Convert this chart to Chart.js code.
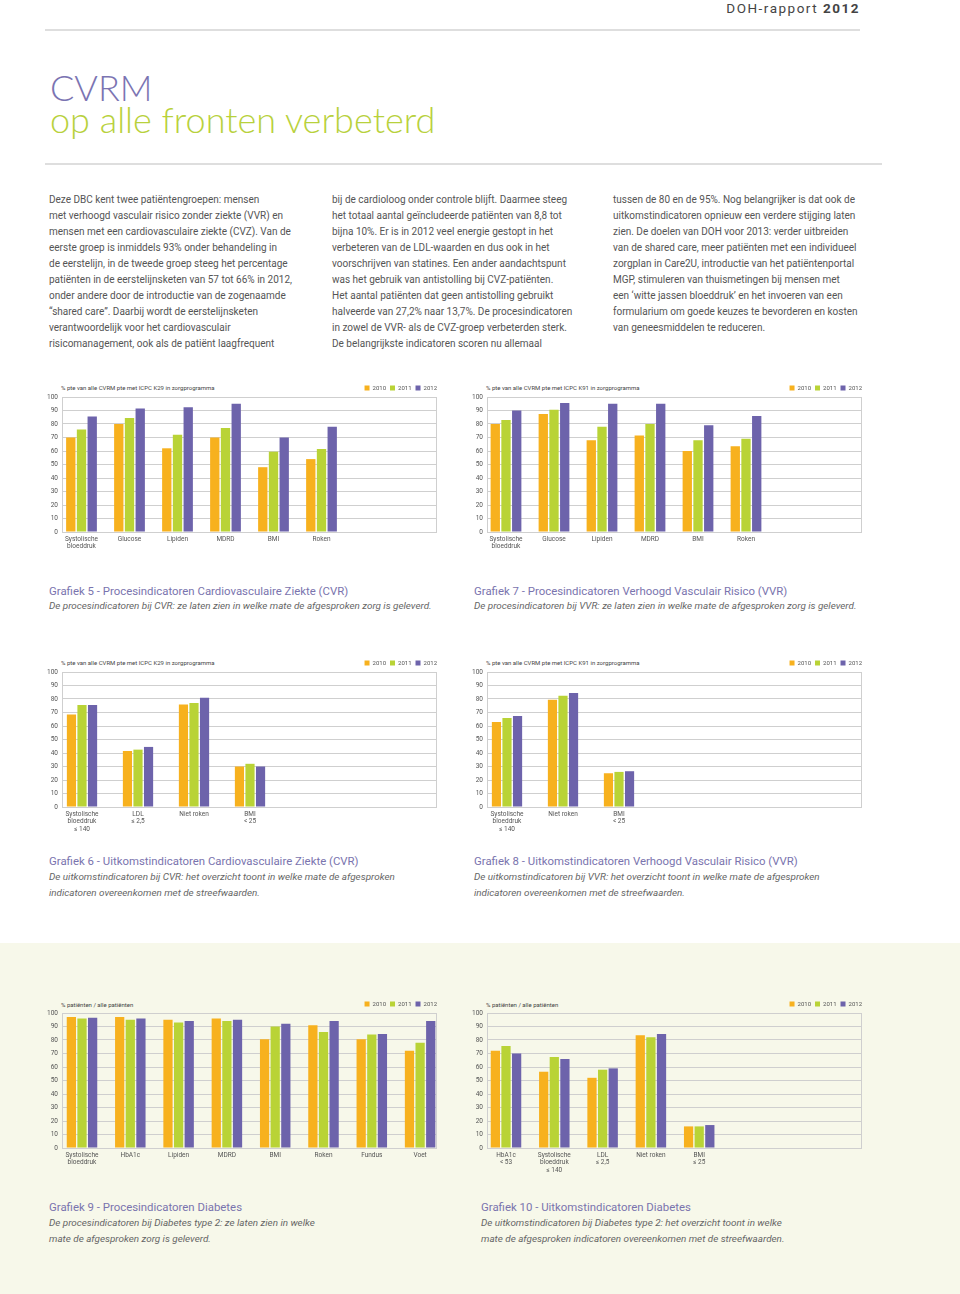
<!DOCTYPE html>
<html>
<head>
<meta charset="utf-8">
<script src="https://cdn.jsdelivr.net/npm/chart.js@4.4.1/dist/chart.umd.min.js"></script>
<style>
body { margin: 0; background: #fff; font-family: Roboto, sans-serif; color: #555; }
.page { position: relative; width: 960px; height: 1294px; overflow: hidden; }
.abs { position: absolute; }
.rule { position: absolute; height: 2px; background: #dedede; }
.head { right: 100px; top: 1px; font-size: 13.5px; line-height: 14px; letter-spacing: 1.5px; color: #444; }
.head b { font-weight: 700; }
.t1, .t2 { left: 50px; font-family: Lato, sans-serif; font-weight: 300; font-size: 36px; line-height: 40px; }
.t1 { top: 67px; color: #7b74b2; }
.t2 { top: 99px; color: #b8d13c; }
.col { font-size: 10px; line-height: 16px; color: #555; white-space: nowrap; top: 192px; }
.band { left: 0; top: 943px; width: 960px; height: 351px; background: #f7f8ea; }
.cap { font-size: 11.4px; line-height: 14px; color: #7a74ae; white-space: nowrap; }
.sub { font-size: 9.9px; line-height: 16px; color: #666; font-style: italic; white-space: nowrap; }
.ctitle { font-size: 6px; line-height: 8px; color: #444; white-space: nowrap; }
.wrap { position: absolute; }
</style>
</head>
<body>
<div class="page">
  <div class="abs head">DOH-rapport <b>2012</b></div>
  <div class="rule" style="left:45px;top:29px;width:815px"></div>
  <div class="abs t1">CVRM</div>
  <div class="abs t2">op alle fronten verbeterd</div>
  <div class="rule" style="left:45px;top:163px;width:837px"></div>

  <div class="abs col" style="left:49px">Deze DBC kent twee patiëntengroepen: mensen<br>met verhoogd vasculair risico zonder ziekte (VVR) en<br>mensen met een cardiovasculaire ziekte (CVZ). Van de<br>eerste groep is inmiddels 93% onder behandeling in<br>de eerstelijn, in de tweede groep steeg het percentage<br>patiënten in de eerstelijnsketen van 57 tot 66% in 2012,<br>onder andere door de introductie van de zogenaamde<br>“shared care”. Daarbij wordt de eerstelijnsketen<br>verantwoordelijk voor het cardiovasculair<br>risicomanagement, ook als de patiënt laagfrequent</div>
  <div class="abs col" style="left:332px">bij de cardioloog onder controle blijft. Daarmee steeg<br>het totaal aantal geïncludeerde patiënten van 8,8 tot<br>bijna 10%. Er is in 2012 veel energie gestopt in het<br>verbeteren van de LDL-waarden en dus ook in het<br>voorschrijven van statines. Een ander aandachtspunt<br>was het gebruik van antistolling bij CVZ-patiënten.<br>Het aantal patiënten dat geen antistolling gebruikt<br>halveerde van 27,2% naar 13,7%. De procesindicatoren<br>in zowel de VVR- als de CVZ-groep verbeterden sterk.<br>De belangrijkste indicatoren scoren nu allemaal</div>
  <div class="abs col" style="left:613px">tussen de 80 en de 95%. Nog belangrijker is dat ook de<br>uitkomstindicatoren opnieuw een verdere stijging laten<br>zien. De doelen van DOH voor 2013: verder uitbreiden<br>van de shared care, meer patiënten met een individueel<br>zorgplan in Care2U, introductie van het patiëntenportal<br>MGP, stimuleren van thuismetingen bij mensen met<br>een ‘witte jassen bloeddruk’ en het invoeren van een<br>formularium om goede keuzes te bevorderen en kosten<br>van geneesmiddelen te reduceren.</div>

  <div class="band abs"></div>

  <div class="abs ctitle" style="left:61px;top:384px">% pte van alle CVRM pte met ICPC K29 in zorgprogramma</div>
  <div class="wrap" id="w5"><canvas id="c5" width="403" height="185"></canvas></div>
  <div class="abs ctitle" style="left:486px;top:384px">% pte van alle CVRM pte met ICPC K91 in zorgprogramma</div>
  <div class="wrap" id="w7"><canvas id="c7" width="403" height="185"></canvas></div>

  <div class="abs cap" style="left:49px;top:584px">Grafiek 5 - Procesindicatoren Cardiovasculaire Ziekte (CVR)</div>
  <div class="abs sub" style="left:49px;top:598px">De procesindicatoren bij CVR: ze laten zien in welke mate de afgesproken zorg is geleverd.</div>
  <div class="abs cap" style="left:474px;top:584px">Grafiek 7 - Procesindicatoren Verhoogd Vasculair Risico (VVR)</div>
  <div class="abs sub" style="left:474px;top:598px">De procesindicatoren bij VVR: ze laten zien in welke mate de afgesproken zorg is geleverd.</div>

  <div class="abs ctitle" style="left:61px;top:659px">% pte van alle CVRM pte met ICPC K29 in zorgprogramma</div>
  <div class="wrap" id="w6"><canvas id="c6" width="403" height="185"></canvas></div>
  <div class="abs ctitle" style="left:486px;top:659px">% pte van alle CVRM pte met ICPC K91 in zorgprogramma</div>
  <div class="wrap" id="w8"><canvas id="c8" width="403" height="185"></canvas></div>

  <div class="abs cap" style="left:49px;top:854px">Grafiek 6 - Uitkomstindicatoren Cardiovasculaire Ziekte (CVR)</div>
  <div class="abs sub" style="left:49px;top:869px">De uitkomstindicatoren bij CVR: het overzicht toont in welke mate de afgesproken<br>indicatoren overeenkomen met de streefwaarden.</div>
  <div class="abs cap" style="left:474px;top:854px">Grafiek 8 - Uitkomstindicatoren Verhoogd Vasculair Risico (VVR)</div>
  <div class="abs sub" style="left:474px;top:869px">De uitkomstindicatoren bij VVR: het overzicht toont in welke mate de afgesproken<br>indicatoren overeenkomen met de streefwaarden.</div>

  <div class="abs ctitle" style="left:61px;top:1001px">% patiënten / alle patiënten</div>
  <div class="wrap" id="w9"><canvas id="c9" width="403" height="185"></canvas></div>
  <div class="abs ctitle" style="left:486px;top:1001px">% patiënten / alle patiënten</div>
  <div class="wrap" id="w10"><canvas id="c10" width="403" height="185"></canvas></div>

  <div class="abs cap" style="left:49px;top:1200px">Grafiek 9 - Procesindicatoren Diabetes</div>
  <div class="abs sub" style="left:49px;top:1215px">De procesindicatoren bij Diabetes type 2: ze laten zien in welke<br>mate de afgesproken zorg is geleverd.</div>
  <div class="abs cap" style="left:481px;top:1200px">Grafiek 10 - Uitkomstindicatoren Diabetes</div>
  <div class="abs sub" style="left:481px;top:1215px">De uitkomstindicatoren bij Diabetes type 2: het overzicht toont in welke<br>mate de afgesproken indicatoren overeenkomen met de streefwaarden.</div>
</div>

<script>
// years and bar colours
const years = ['2010', '2011', '2012'];
const barColors = ['#f7b11e', '#b9d336', '#6d63ab'];

// Grafiek 5 - procesindicatoren CVR (K29)
const cats5 = [['Systolische', 'bloeddruk'], 'Glucose', 'Lipiden', 'MDRD', 'BMI', 'Roken'];
const g5_2010 = [70, 80, 62, 70, 48, 54];
const g5_2011 = [76, 84.5, 72, 77, 59.5, 61.5];
const g5_2012 = [85.5, 91.5, 92.5, 95, 70, 78];

// Grafiek 7 - procesindicatoren VVR (K91)
const cats7 = [['Systolische', 'bloeddruk'], 'Glucose', 'Lipiden', 'MDRD', 'BMI', 'Roken'];
const g7_2010 = [80, 87.5, 68, 71.5, 60, 63.5];
const g7_2011 = [83, 90.5, 78, 80, 68, 69];
const g7_2012 = [90, 95.5, 95, 95, 79, 86];

// Grafiek 6 - uitkomstindicatoren CVR
const cats6 = [['Systolische', 'bloeddruk', '≤ 140'], ['LDL', '≤ 2,5'], 'Niet roken', ['BMI', '< 25']];
const g6_2010 = [68.5, 41.5, 76, 30];
const g6_2011 = [75.5, 42.5, 77, 32];
const g6_2012 = [75.5, 44.5, 81, 30];

// Grafiek 8 - uitkomstindicatoren VVR
const cats8 = [['Systolische', 'bloeddruk', '≤ 140'], 'Niet roken', ['BMI', '< 25']];
const g8_2010 = [63, 79.5, 25];
const g8_2011 = [66, 82.5, 26];
const g8_2012 = [67.5, 84.5, 26.5];

// Grafiek 9 - procesindicatoren diabetes
const cats9 = [['Systolische', 'bloeddruk'], 'HbA1c', 'Lipiden', 'MDRD', 'BMI', 'Roken', 'Fundus', 'Voet'];
const g9_2010 = [97, 97, 95, 96, 80.5, 91, 80.5, 72];
const g9_2011 = [96, 95, 93, 94, 90, 86, 84, 78];
const g9_2012 = [96.5, 96, 94, 95, 92, 94, 84.5, 94];

// Grafiek 10 - uitkomstindicatoren diabetes
const cats10 = [['HbA1c', '< 53'], ['Systolische', 'bloeddruk', '≤ 140'], ['LDL', '≤ 2,5'], 'Niet roken', ['BMI', '≤ 25']];
const g10_2010 = [72, 56.5, 52, 83.5, 16];
const g10_2011 = [75.5, 67.5, 58, 82, 16];
const g10_2012 = [70, 66, 59, 84.5, 17];

const PLOT_W = 375, PLOT_H = 135;

// light grey box round the plot area
const frame = {
  id: 'frame',
  beforeDatasetsDraw(chart) {
    const { ctx, chartArea: a } = chart;
    ctx.save();
    ctx.strokeStyle = '#cfcfcf';
    ctx.lineWidth = 1;
    ctx.strokeRect(Math.round(a.left) + 0.5, Math.round(a.top) + 0.5,
      Math.round(a.right - a.left) - 1, Math.round(a.bottom - a.top));
    ctx.restore();
  }
};

function drawChart(n, cats, series, o) {
  const canvas = document.getElementById('c' + n);
  const wrap = document.getElementById('w' + n);
  const tickFont = { family: 'Roboto', size: 6.5 };
  const chart = new Chart(canvas, {
    type: 'bar',
    data: {
      datasets: years.map((y, k) => ({
        label: y,
        data: series[k].map((v, i) => ({ x: i, y: v })),
        backgroundColor: barColors[k],
        borderWidth: 0,
        categoryPercentage: o.catPct,
        barPercentage: 0.87
      }))
    },
    options: {
      responsive: false,
      maintainAspectRatio: false,
      animation: false,
      plugins: {
        legend: {
          align: 'end',
          maxHeight: 16,
          labels: { boxWidth: 5, boxHeight: 5, padding: 4, color: '#555', font: { family: 'Roboto', size: 6 } }
        },
        tooltip: { enabled: false }
      },
      scales: {
        x: {
          type: 'linear',
          offset: false,
          min: -o.first / o.slot,
          max: (PLOT_W - o.first) / o.slot,
          grid: { display: false, drawTicks: false, offset: false },
          border: { display: false },
          ticks: {
            stepSize: 1, includeBounds: false, autoSkip: false, maxRotation: 0,
            padding: 3, color: '#555', font: tickFont,
            callback: v => cats[v] || ''
          },
          afterFit: s => { s.height = 30; }
        },
        y: {
          min: 0, max: 100,
          grid: { color: '#cfcfcf', drawTicks: false },
          border: { display: false },
          ticks: { stepSize: 10, padding: 4, color: '#555', font: tickFont },
          afterFit: s => { s.width = 24; }
        },
        y2: {
          position: 'right',
          display: true,
          grid: { display: false, drawTicks: false },
          border: { display: false },
          ticks: { display: false },
          afterFit: s => { s.width = 4; }
        }
      }
    },
    plugins: [frame]
  });
  const h = chart.chartArea.bottom - chart.chartArea.top;
  if (Math.abs(h - PLOT_H) > 0.5) {
    chart.resize(403, canvas.height + PLOT_H - h);
  }
  wrap.style.left = (o.left - chart.chartArea.left) + 'px';
  wrap.style.top = (o.top - chart.chartArea.top) + 'px';
}

drawChart(5, cats5, [g5_2010, g5_2011, g5_2012], { left: 62, top: 397, slot: 48, first: 19.5, catPct: 0.67 });
drawChart(7, cats7, [g7_2010, g7_2011, g7_2012], { left: 487, top: 397, slot: 48, first: 19, catPct: 0.67 });
drawChart(6, cats6, [g6_2010, g6_2011, g6_2012], { left: 62, top: 672, slot: 56, first: 20, catPct: 0.565 });
drawChart(8, cats8, [g8_2010, g8_2011, g8_2012], { left: 487, top: 672, slot: 56, first: 20, catPct: 0.565 });
drawChart(9, cats9, [g9_2010, g9_2011, g9_2012], { left: 62, top: 1013, slot: 48.3, first: 20, catPct: 0.66 });
drawChart(10, cats10, [g10_2010, g10_2011, g10_2012], { left: 487, top: 1013, slot: 48.3, first: 19, catPct: 0.66 });
</script>
</body>
</html>
